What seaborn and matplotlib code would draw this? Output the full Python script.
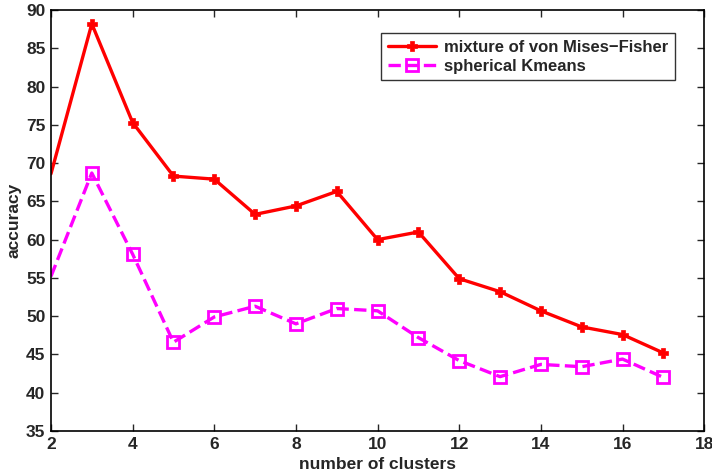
import matplotlib
matplotlib.use('agg')
import matplotlib.pyplot as plt
import seaborn as sns
import pandas as pd

clusters = [2, 3, 4, 5, 6, 7, 8, 9, 10, 11, 12, 13, 14, 15, 16, 17]
vmf_acc = [68.6, 88.2, 75.3, 68.3, 67.9, 63.3, 64.4, 66.3, 60.0, 61.0, 54.9, 53.2, 50.7, 48.6, 47.6, 45.2]
skm_acc = [55.2, 68.7, 58.1, 46.6, 49.9, 51.3, 49.0, 51.0, 50.7, 47.2, 44.2, 42.1, 43.7, 43.4, 44.4, 42.0]
series_names = ['mixture of von Mises\u2212Fisher', 'spherical Kmeans']
x_ticks = [2, 4, 6, 8, 10, 12, 14, 16, 18]
y_ticks = [35, 40, 45, 50, 55, 60, 65, 70, 75, 80, 85, 90]

sns.set_style('ticks')
plt.rcParams['font.family'] = ['Liberation Sans', 'DejaVu Sans']
plt.rcParams['font.weight'] = 'bold'
plt.rcParams['axes.labelweight'] = 'bold'

df = pd.DataFrame({'k': clusters, 'vmf': vmf_acc, 'skm': skm_acc})
# first point sits on the axis edge, no marker drawn there
marks = list(range(1, len(clusters)))

fig = plt.figure(figsize=(7.12, 4.75), dpi=100)
ax = fig.add_axes([0.0716, 0.0926, 0.9174, 0.8864])

sns.lineplot(data=df, x='k', y='vmf', ax=ax, color='#ff0000', linewidth=2.4,
             marker='P', markersize=7.5, markeredgewidth=0.5, markeredgecolor='#ff0000',
             markevery=marks, label=series_names[0])
sns.lineplot(data=df, x='k', y='skm', ax=ax, color='#ff00ff', linewidth=2.4,
             linestyle='--', marker='s', markersize=8, markerfacecolor='none',
             markeredgewidth=2, markeredgecolor='#ff00ff', markevery=marks,
             label=series_names[1])

ax.set_xlim(2, 18)
ax.set_ylim(35, 90)
ax.set_xticks(x_ticks)
ax.set_yticks(y_ticks)
ax.tick_params(direction='in', top=True, right=True, labelsize=12.5, length=5, width=1, pad=4)
for lab in ax.get_xticklabels() + ax.get_yticklabels():
    lab.set_fontweight('bold')
for s in ax.spines.values():
    s.set_linewidth(1.2)
    s.set_color('black')

ax.set_xlabel('number of clusters', fontsize=12.5, fontweight='bold', labelpad=4)
ax.set_ylabel('accuracy', fontsize=12.5, fontweight='bold', labelpad=3)

leg = ax.legend(loc='upper right', bbox_to_anchor=(0.9556, 0.9454), borderaxespad=0,
                fontsize=12, frameon=True, fancybox=False, edgecolor='black',
                handlelength=2.9, borderpad=0.4, labelspacing=0.25, handletextpad=0.5)
leg.get_frame().set_linewidth(1.0)
for t in leg.get_texts():
    t.set_fontweight('bold')

fig.savefig('out.png', dpi=100)
